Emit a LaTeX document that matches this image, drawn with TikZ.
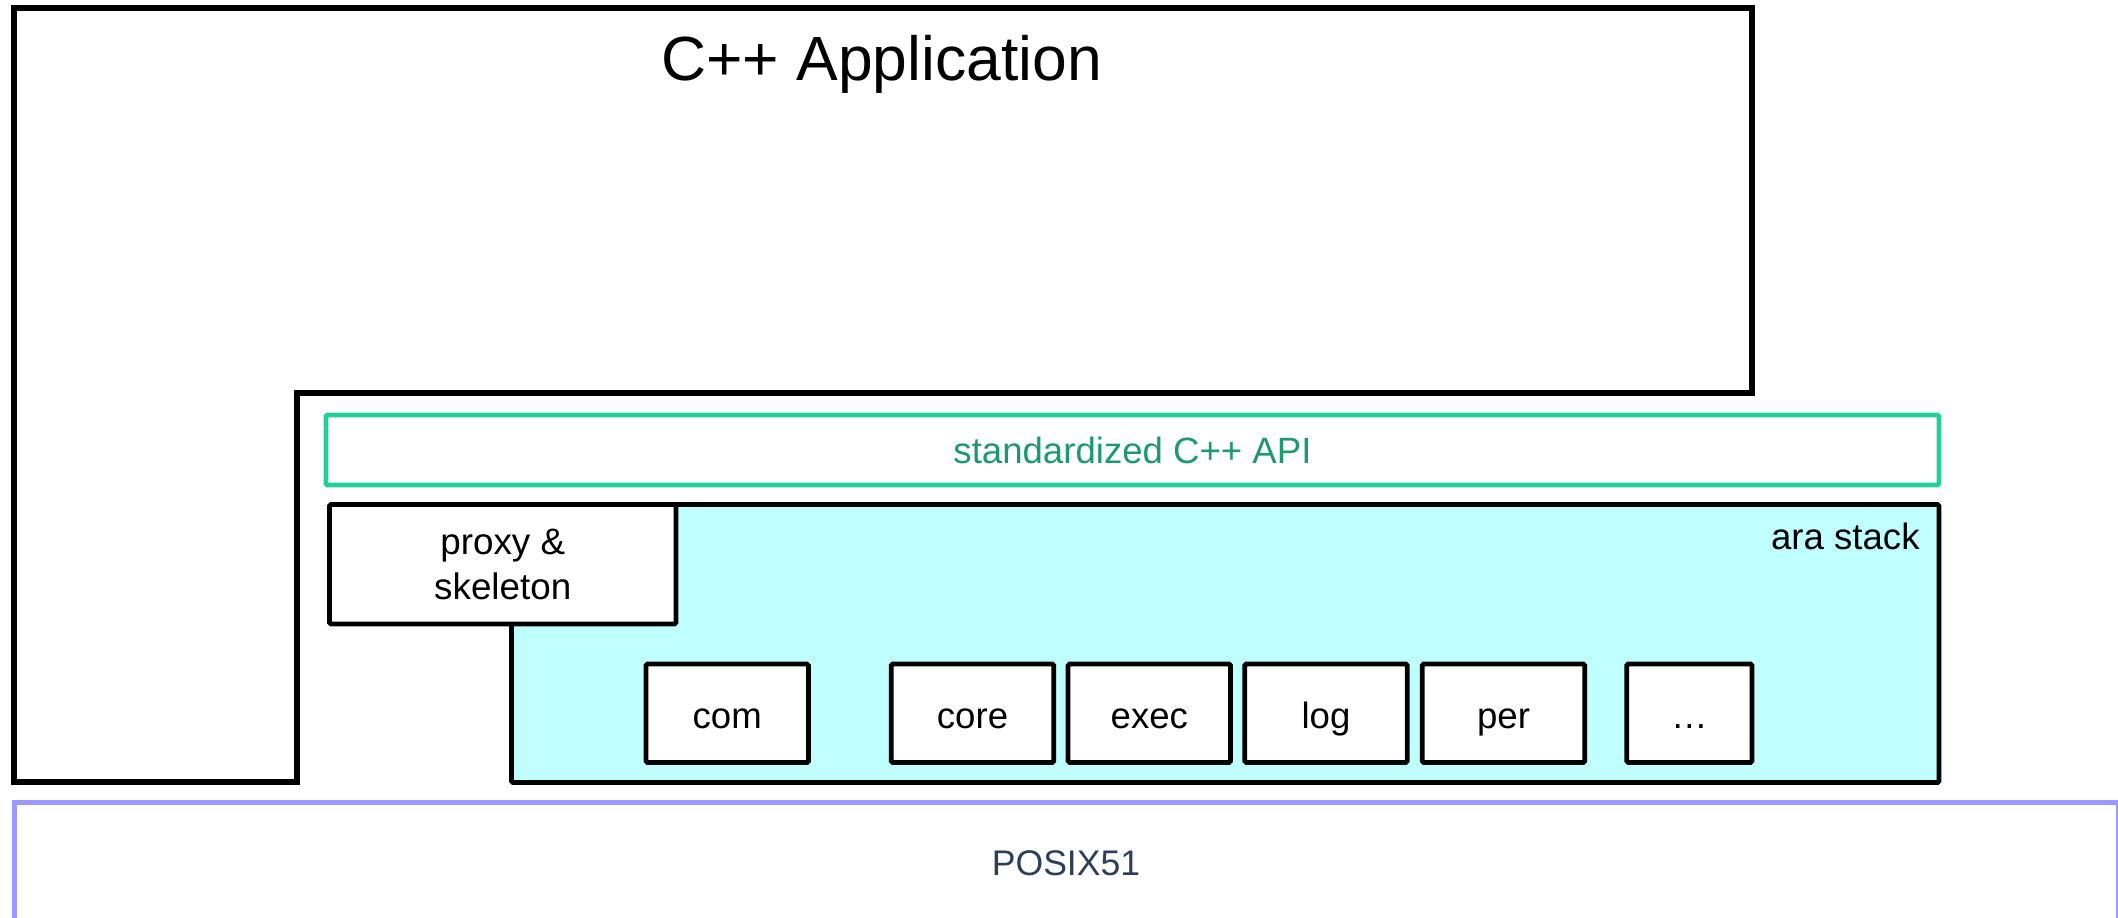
\documentclass[tikz,border=0pt]{standalone}
\usepackage{fontspec}
\setmainfont{Liberation Sans}
\definecolor{stackcyan}{RGB}{192,255,255}
\definecolor{apigreen}{RGB}{34,208,150}
\definecolor{apitext}{RGB}{28,154,110}
\definecolor{osline}{RGB}{153,153,255}
\definecolor{ostext}{RGB}{45,62,90}
\tikzset{
  frameline/.style={draw=black, line width=3pt, line join=miter},
  boxline/.style={draw=black, line width=2.4pt, rounded corners=0.8pt},
  modbox/.style={boxline, fill=white, minimum width=81.25pt, minimum height=49.25pt,
    inner sep=0pt, text height=15pt, text depth=0pt,
    font=\fontsize{18.3pt}{22pt}\selectfont},
  label/.style={inner sep=0pt, font=\fontsize{18.3pt}{22pt}\selectfont},
}
\begin{document}
\begin{tikzpicture}[x=0.5pt, y=-0.5pt]
\useasboundingbox (0,0) rectangle (2118,917);

% application frame (stepped outline)
\coordinate (f1) at (14,8);
\coordinate (f2) at (1752,8);
\coordinate (f3) at (1752,393);
\coordinate (f4) at (297,393);
\coordinate (f5) at (297,782);
\coordinate (f6) at (14,782);
\draw[frameline] (f1) -- (f2) -- (f3) -- (f4) -- (f5) -- (f6) -- cycle;
\node[inner sep=0pt, anchor=base, font=\fontsize{31.2pt}{36pt}\selectfont]
  (app) at (881.7,80) {C++ Application};

% standardized API bar
\node[draw=apigreen, line width=2.4pt, rounded corners=0.8pt,
      minimum width=806.5pt, minimum height=35pt, inner sep=0pt,
      text=apitext, font=\fontsize{18.3pt}{22pt}\selectfont]
  (api) at (1132.5,450) {standardized C++ API};

% ara stack area
\node[boxline, fill=stackcyan, minimum width=713.75pt, minimum height=139pt, inner sep=0pt]
  (ara) at (1225.25,643.5) {};
\node[label, anchor=base east] (aralabel) at (1920,549) {ara stack};

% proxy & skeleton box, laid over the stack's corner
\node[boxline, fill=white, minimum width=173.25pt, minimum height=59.75pt,
      inner sep=0pt, font=\fontsize{18.4pt}{22.5pt}\selectfont]
  (proxy) at (502.75,564.25)
  {\raisebox{-2pt}[\height][\depth]{\begin{tabular}{@{}c@{}}proxy \&\\skeleton\end{tabular}}};

% functional clusters
\node[modbox] (com)  at (727.2,713.25)  {com};
\node[modbox] (core) at (972.5,713.25)  {core};
\node[modbox] (exec) at (1149.3,713.25) {exec};
\node[modbox] (log)  at (1326,713.25)   {log};
\node[modbox] (per)  at (1503.5,713.25) {per};
\node[modbox, minimum width=62.65pt] (more) at (1689.4,713.25) {…};

% operating system layer
\draw[draw=osline, line width=2.5pt] (14.5,960) -- (14.5,802.5) -- (2118,802.5) -- (2118,960);
\node[label, anchor=base, text=ostext, font=\fontsize{17.8pt}{22pt}\selectfont]
  (posix) at (1066,875) {POSIX51};
\end{tikzpicture}
\end{document}
